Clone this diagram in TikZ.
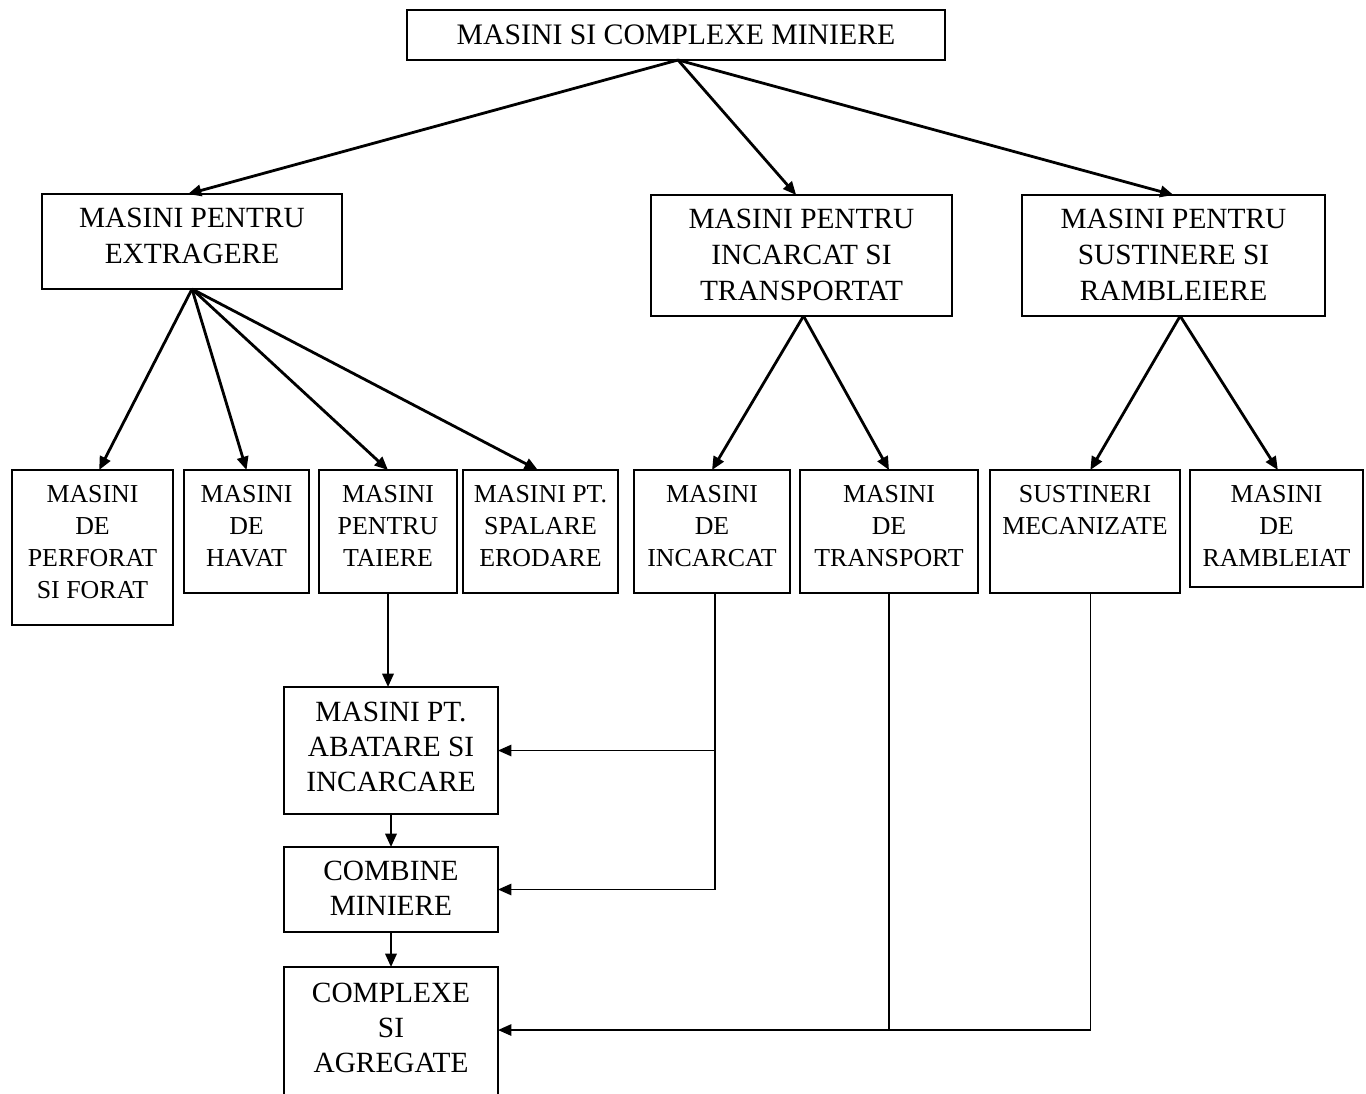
\documentclass[tikz,border=0pt]{standalone}
\usepackage{fontspec}
\setmainfont{Liberation Serif}
\usetikzlibrary{arrows.meta}

% fixed-size cell, text hung from the top: width, height, top gap (all in px), text
\newcommand\cellbox[4]{\parbox[c][\dimexpr #2pt*3/4\relax][t]{\dimexpr #1pt*3/4\relax}{\centering\vspace*{\dimexpr #3pt*3/4\relax}#4\par}}

\tikzset{
  box/.style={draw, line width=1.9pt, inner sep=0pt, outer sep=0pt},
  big/.style={box, font=\fontsize{22}{27}\selectfont},
  small/.style={box, font=\fontsize{19.4}{24}\selectfont},
  low/.style={box, font=\fontsize{22}{26.3}\selectfont},
  tip/.style={-{Triangle[length=10pt,width=8.5pt]}},
  thickarrow/.style={tip, line width=2.1pt},
  midarrow/.style={tip, line width=1.7pt},
  thinline/.style={line width=1.25pt},
  thinarrow/.style={tip, line width=1.25pt},
}

\begin{document}
\begin{tikzpicture}[x=0.75pt, y=-0.75pt]
  \clip (0,0) rectangle (1366,1093);
  \fill[white] (0,0) rectangle (1366,1093);

  % level 0
  \node[big, font=\fontsize{22.3}{27}\selectfont] (top) at (676,35) {\cellbox{538}{50}{15}{MASINI SI COMPLEXE MINIERE}};

  % level 1
  \node[big] (ext) at (192,241.5) {\cellbox{300}{95}{14}{MASINI PENTRU\\EXTRAGERE}};
  \node[big] (inc) at (801.5,255.5) {\cellbox{301}{121}{14}{MASINI PENTRU\\INCARCAT SI\\TRANSPORTAT}};
  \node[big] (sus) at (1173.5,255.5) {\cellbox{303}{121}{14}{MASINI PENTRU\\SUSTINERE SI\\RAMBLEIERE}};

  % level 2
  \node[small] (perf) at (92.5,547.5) {\cellbox{161}{155}{15}{MASINI\\DE\\PERFORAT\\SI FORAT}};
  \node[small] (hav)  at (246.5,531.5) {\cellbox{125}{123}{15}{MASINI\\DE\\HAVAT}};
  \node[small] (tai)  at (388,531.5) {\cellbox{138}{123}{15}{MASINI\\PENTRU\\TAIERE}};
  \node[small] (spa)  at (540.5,531.5) {\cellbox{155}{123}{15}{MASINI PT.\\SPALARE\\ERODARE}};
  \node[small] (inc2) at (712,531.5) {\cellbox{156}{123}{15}{MASINI\\DE\\INCARCAT}};
  \node[small] (tra)  at (889,531.5) {\cellbox{178}{123}{15}{MASINI\\DE\\TRANSPORT}};
  \node[small] (mec)  at (1085,531.5) {\cellbox{190}{123}{15}{SUSTINERI\\MECANIZATE}};
  \node[small] (ram)  at (1276.5,528.5) {\cellbox{173}{117}{15}{MASINI\\DE\\RAMBLEIAT}};

  % lower chain
  \node[low] (aba) at (391,750.5) {\cellbox{214}{127}{15}{MASINI PT.\\ABATARE SI\\INCARCARE}};
  \node[low] (com) at (391,889.5) {\cellbox{214}{85}{14}{COMBINE\\MINIERE}};
  \node[low] (cpx) at (391,1043.5) {\cellbox{214}{153}{16}{COMPLEXE\\SI\\AGREGATE}};

  % entry point of the collector line on the last box
  \coordinate (cpxin) at (498,1030);

  % tree connectors
  \draw[thickarrow] ([xshift=1.5pt]top.south) -- ([xshift=-3pt]ext.north);
  \draw[thickarrow] ([xshift=1.5pt]top.south) -- ([xshift=-4pt]inc.north);
  \draw[thickarrow] ([xshift=1.5pt]top.south) -- (sus.north);

  \draw[thickarrow] (ext.south) -- ([xshift=5pt]perf.north);
  \draw[thickarrow] (ext.south) -- (hav.north);
  \draw[thickarrow] (ext.south) -- (tai.north);
  \draw[thickarrow] (ext.south) -- ([xshift=-2pt]spa.north);

  \draw[thickarrow] ([xshift=1.5pt]inc.south) -- (inc2.north);
  \draw[thickarrow] ([xshift=1.5pt]inc.south) -- (tra.north);

  \draw[thickarrow] ([xshift=5pt]sus.south) -- ([xshift=4pt]mec.north);
  \draw[thickarrow] ([xshift=5pt]sus.south) -- ([xshift=1pt]ram.north);

  % vertical chain
  \draw[midarrow] (tai.south) -- (tai.south |- aba.north);
  \draw[midarrow] (aba.south) -- (com.north);
  \draw[midarrow] (com.south) -- (cpx.north);

  % loading machines feed the lower chain
  \draw[thinarrow] ([xshift=2pt]inc2.south) |- (com.east);
  \draw[thinarrow] ([xshift=2pt]inc2.south |- aba.east) -- (aba.east);

  % transport and supports feed the complexes
  \draw[thinline] (tra.south) -- (tra.south |- cpxin);
  \draw[thinarrow] ([xshift=4pt]mec.south) |- (cpxin);
\end{tikzpicture}
\end{document}
